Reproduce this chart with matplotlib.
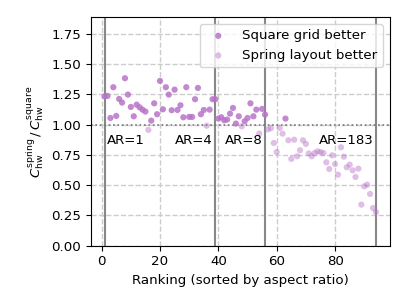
import matplotlib
matplotlib.use("Agg")
import matplotlib.pyplot as plt
import numpy as np

ranking = list(range(1, 95))
ratio = [1.233, 1.236, 1.054, 1.308, 1.071, 1.211, 1.181, 1.382, 1.247, 1.145,
         1.068, 1.164, 1.142, 1.123, 1.107, 0.956, 1.032, 1.175, 1.085, 1.360,
         1.126, 1.308, 1.247, 1.118, 1.288, 1.120, 1.159, 1.060, 1.308, 1.063,
         1.063, 1.209, 1.302, 1.085, 1.120, 0.990, 1.123, 1.209, 1.209, 1.049,
         1.060, 1.035, 1.041, 1.090, 1.137, 1.008, 1.068, 0.985, 1.027, 1.054,
         1.175, 1.068, 1.123, 0.925, 1.129, 1.082, 0.960, 0.970, 0.848, 0.773,
         0.972, 0.925, 1.049, 0.870, 0.716, 0.875, 0.738, 0.788, 0.870, 0.840,
         0.762, 0.738, 0.765, 0.779, 0.773, 0.765, 0.688, 0.633, 0.746, 0.674,
         0.586, 0.812, 0.735, 0.647, 0.669, 0.622, 0.567, 0.636, 0.339, 0.490,
         0.504, 0.427, 0.311, 0.278]
ar_positions = [1, 39, 56, 94]
ar_labels = ["AR=1", "AR=4", "AR=8", "AR=183"]

FS = 9.6
plt.rcParams['font.family'] = ['DejaVu Sans']
fig = plt.figure(figsize=(4.08, 3.06), dpi=100)
ax = fig.add_axes([91.0/408, 1-245.7/306, (389.5-91.0)/408, (245.7-17.3)/306])

x = np.array(ranking)
y = np.array(ratio)
better_sq = y > 1
ax.scatter(x[better_sq], y[better_sq], s=20, color='#b873c8', alpha=0.85,
           edgecolors='none', label='Square grid better', zorder=3)
ax.scatter(x[~better_sq], y[~better_sq], s=20, color='#b873c8', alpha=0.45,
           edgecolors='none', label='Spring layout better', zorder=3)

ax.axhline(1.0, color='#777777', linestyle=':', linewidth=1.2, zorder=2)
for i, (p, lab) in enumerate(zip(ar_positions, ar_labels)):
    ax.axvline(p, color='#888888', linewidth=1.5, zorder=1)
    if i == 0:
        ax.text(p + 0.8, 0.865, lab, ha='left', va='center', fontsize=FS)
    else:
        ax.text(p - 0.8, 0.865, lab, ha='right', va='center', fontsize=FS)

ax.set_xlim(-3.65, 98.65)
ax.set_ylim(0, 1.885)
ax.set_yticks([0, 0.25, 0.5, 0.75, 1.0, 1.25, 1.5, 1.75])
ax.set_xticks([0, 20, 40, 60, 80])
ax.grid(True, linestyle='--', color='#cccccc', linewidth=1.0)
ax.set_axisbelow(True)
ax.tick_params(labelsize=FS)
ax.set_xlabel('Ranking (sorted by aspect ratio)', fontsize=FS)
ax.set_ylabel(r'$C_{\rm hw}^{\rm spring}\,/\,C_{\rm hw}^{\rm square}$', fontsize=FS)
ax.legend(loc='upper right', fontsize=FS, borderpad=0.4, framealpha=0.8)
fig.savefig('out.png', dpi=100)
